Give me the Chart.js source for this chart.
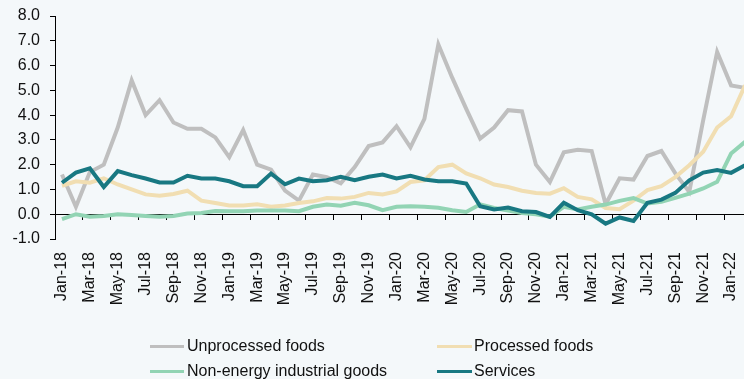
<!DOCTYPE html>
<html>
<head>
<meta charset="utf-8">
<script src="https://cdn.jsdelivr.net/npm/chart.js@4.4.1/dist/chart.umd.min.js"></script>
<style>
  html, body { margin: 0; padding: 0; width: 744px; height: 379px; overflow: hidden; background: #F4F8FA; }
  #wrap { position: absolute; left: 0; top: 0; width: 752px; height: 379px; }
  #legend { position: absolute; left: 0; top: 0; width: 744px; height: 379px; pointer-events: none;
            font-family: "Liberation Sans", Arial, sans-serif; font-size: 16px; color: #111; }
  .item { position: absolute; height: 18px; line-height: 18px; white-space: nowrap; }
  .swatch { position: absolute; top: 8px; height: 3px; }
  .txt { position: absolute; top: 0; }
</style>
</head>
<body>
<div id="wrap"><canvas id="c" width="752" height="379"></canvas></div>
<div id="legend"></div>
<script>
const labels = ["Jan-18","Feb-18","Mar-18","Apr-18","May-18","Jun-18","Jul-18","Aug-18","Sep-18","Oct-18","Nov-18","Dec-18",
  "Jan-19","Feb-19","Mar-19","Apr-19","May-19","Jun-19","Jul-19","Aug-19","Sep-19","Oct-19","Nov-19","Dec-19",
  "Jan-20","Feb-20","Mar-20","Apr-20","May-20","Jun-20","Jul-20","Aug-20","Sep-20","Oct-20","Nov-20","Dec-20",
  "Jan-21","Feb-21","Mar-21","Apr-21","May-21","Jun-21","Jul-21","Aug-21","Sep-21","Oct-21","Nov-21","Dec-21",
  "Jan-22","Feb-22"];

const unprocessedFoods = [1.6,0.3,1.7,2.0,3.5,5.4,4.0,4.6,3.7,3.45,3.45,3.1,2.3,3.4,2.0,1.8,0.95,0.55,1.6,1.5,1.25,1.9,2.75,2.9,3.55,2.7,3.85,6.85,5.5,4.25,3.05,3.5,4.2,4.15,2.0,1.3,2.5,2.6,2.55,0.4,1.45,1.4,2.35,2.55,1.65,0.9,3.8,6.55,5.2,5.1];
const processedFoods = [1.15,1.33,1.27,1.45,1.2,1.0,0.8,0.75,0.82,0.95,0.55,0.45,0.35,0.35,0.4,0.3,0.35,0.45,0.52,0.65,0.63,0.7,0.86,0.8,0.92,1.3,1.37,1.9,2.0,1.65,1.45,1.2,1.1,0.95,0.86,0.83,1.05,0.7,0.6,0.25,0.2,0.55,0.97,1.13,1.5,1.98,2.52,3.5,3.95,5.2];
const nonEnergyIndustrialGoods = [-0.2,0.0,-0.1,-0.07,0.0,-0.03,-0.07,-0.1,-0.07,0.03,0.05,0.13,0.12,0.12,0.15,0.15,0.15,0.12,0.3,0.39,0.34,0.46,0.36,0.16,0.3,0.32,0.3,0.26,0.16,0.09,0.4,0.25,0.15,0.05,0.0,-0.1,0.3,0.19,0.3,0.39,0.54,0.65,0.43,0.5,0.66,0.83,1.04,1.31,2.45,2.92];
const services = [1.27,1.68,1.85,1.1,1.74,1.58,1.44,1.28,1.28,1.55,1.44,1.44,1.33,1.13,1.13,1.64,1.21,1.44,1.33,1.37,1.51,1.37,1.51,1.6,1.44,1.55,1.4,1.33,1.33,1.24,0.32,0.19,0.27,0.12,0.09,-0.11,0.46,0.16,0.0,-0.38,-0.13,-0.27,0.46,0.59,0.86,1.37,1.68,1.78,1.67,1.98];

const seriesNames = ["Unprocessed foods","Processed foods","Non-energy industrial goods","Services"];
const seriesColors = ["#BFBFBF","#F1DEB2","#92D4B4","#187882"];
const seriesData = [unprocessedFoods, processedFoods, nonEnergyIndustrialGoods, services];

Chart.defaults.font.family = '"Liberation Sans", Arial, sans-serif';
Chart.defaults.font.size = 16;
Chart.defaults.color = '#111';

const datasets = seriesData.map((d, i) => ({
  label: seriesNames[i],
  data: d,
  borderColor: seriesColors[i],
  backgroundColor: seriesColors[i],
  borderWidth: 4,
  pointRadius: 0,
  tension: 0,
  fill: false,
  order: 4 - i,
  xAxisID: 'x',
  yAxisID: 'y'
}));

new Chart(document.getElementById('c'), {
  type: 'line',
  data: { labels: labels, datasets: datasets },
  options: {
    responsive: false,
    animation: false,
    devicePixelRatio: 1,
    layout: { padding: { top: 16, left: 0, right: 0, bottom: 0 } },
    plugins: { legend: { display: false }, tooltip: { enabled: false } },
    scales: {
      x: {
        type: 'category',
        position: 'bottom',
        offset: true,
        grid: { display: false, drawTicks: false, offset: true },
        border: { display: false },
        ticks: {
          autoSkip: false, maxRotation: 90, minRotation: 90, padding: 13,
          color: '#111', font: { size: 16 },
          callback: (v, i) => (i % 2 === 0 ? labels[i] : '')
        },
        afterFit: (s) => { s.height = 140; s.paddingLeft = 0; s.paddingRight = 0; }
      },
      x2: {
        type: 'category',
        axis: 'x',
        labels: labels,
        position: { y: 0 },
        offset: true,
        grid: {
          offset: true, drawOnChartArea: false, drawTicks: true, tickLength: 5, lineWidth: 1,
          tickColor: (ctx) => (ctx.index % 2 === 0 ? '#000' : 'rgba(0,0,0,0)')
        },
        border: { display: true, color: '#000', width: 1 },
        ticks: { display: false },
        afterFit: (s) => { s.paddingLeft = 0; s.paddingRight = 0; }
      },
      y: {
        min: -1, max: 8,
        position: 'left',
        grid: { drawOnChartArea: false, drawTicks: true, tickLength: 5, tickColor: '#000', lineWidth: 1 },
        border: { display: true, color: '#000', width: 1 },
        ticks: { stepSize: 1, padding: 10, color: '#111', font: { size: 16 },
                 callback: (v) => Number(v).toFixed(1) },
        afterFit: (s) => { s.width = 55; s.paddingTop = 0; s.paddingBottom = 0; }
      }
    }
  }
});

// HTML legend built from the series names/colours
const legendPos = [
  { lineX: 150, lineW: 34, textX: 187, y: 337 },
  { lineX: 437, lineW: 35, textX: 474, y: 337 },
  { lineX: 150, lineW: 34, textX: 187, y: 362 },
  { lineX: 437, lineW: 35, textX: 474, y: 362 }
];
const legend = document.getElementById('legend');
seriesNames.forEach((name, i) => {
  const p = legendPos[i];
  const item = document.createElement('div');
  item.className = 'item';
  item.style.left = '0px';
  item.style.top = p.y + 'px';
  const sw = document.createElement('div');
  sw.className = 'swatch';
  sw.style.left = p.lineX + 'px';
  sw.style.width = p.lineW + 'px';
  sw.style.background = seriesColors[i];
  const tx = document.createElement('div');
  tx.className = 'txt';
  tx.style.left = p.textX + 'px';
  tx.textContent = name;
  item.appendChild(sw);
  item.appendChild(tx);
  legend.appendChild(item);
});
</script>
</body>
</html>
